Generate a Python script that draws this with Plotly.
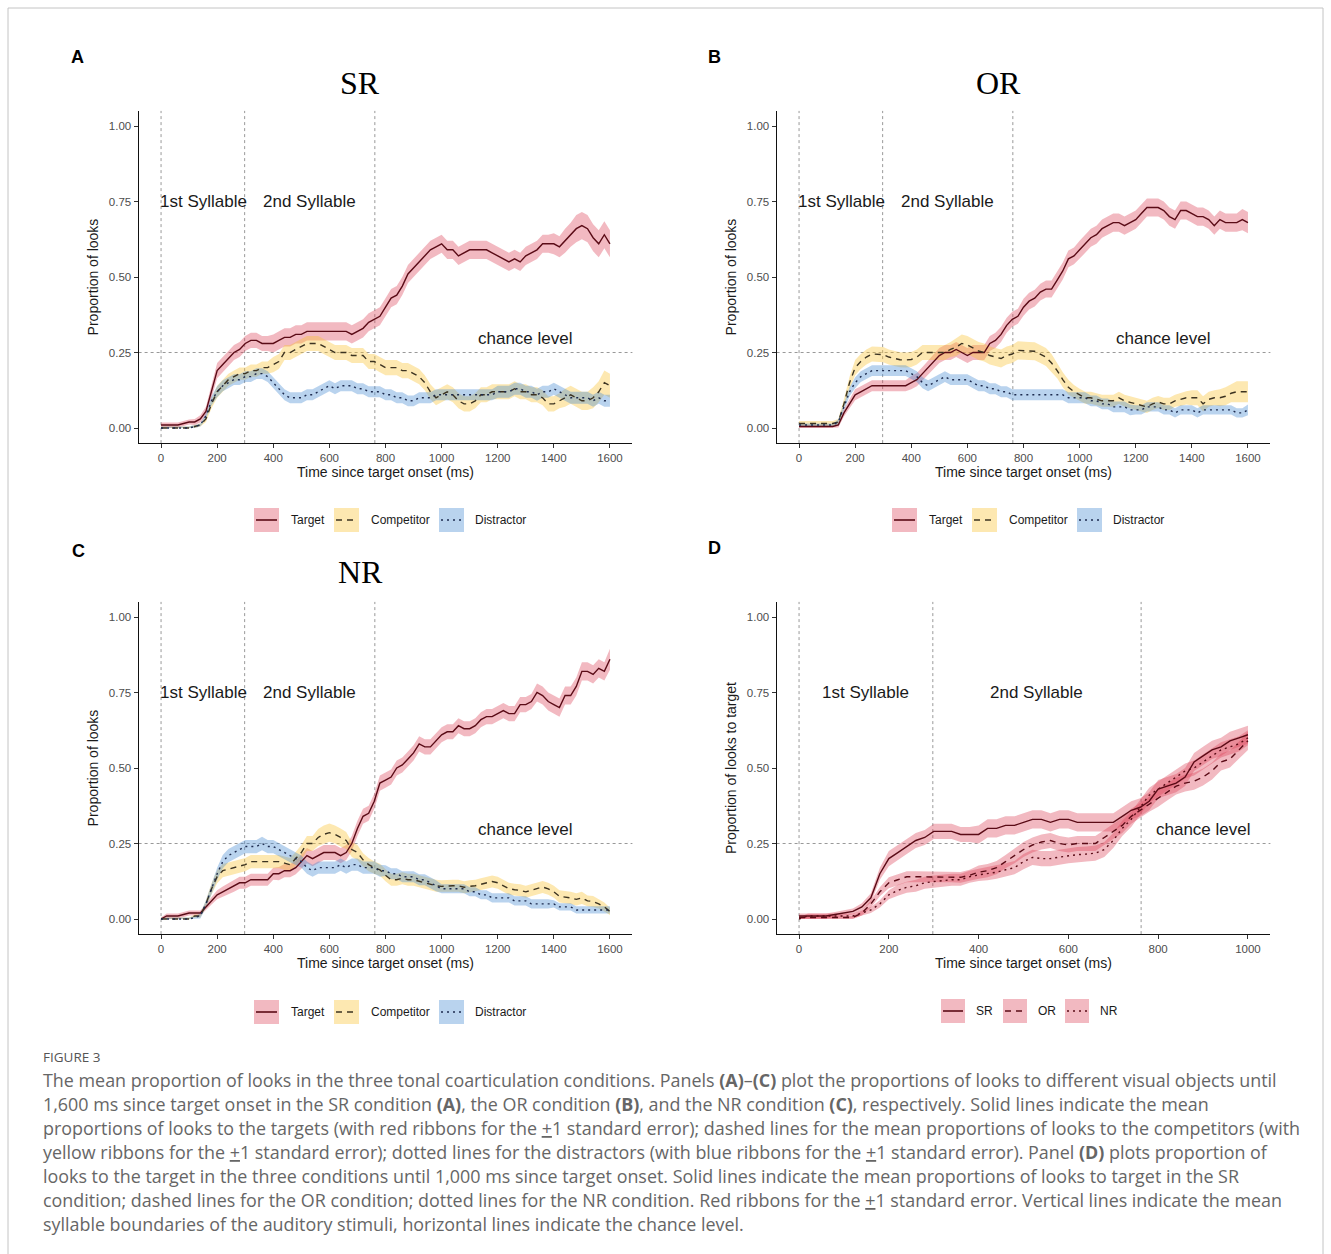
import plotly.graph_objects as go

W, H = 1331, 1254

# ---------------- data ----------------
TIME_MS = list(range(0, 1601, 20))
TIME_MS_D = list(range(0, 1001, 20))

SR_TARGET = [0.01, 0.01, 0.01, 0.01, 0.015, 0.02, 0.02, 0.03, 0.055, 0.12,
             0.19, 0.21, 0.23, 0.25, 0.26, 0.28, 0.29, 0.29, 0.28, 0.28,
             0.28, 0.29, 0.30, 0.30, 0.31, 0.31, 0.32, 0.32, 0.32, 0.32,
             0.32, 0.32, 0.32, 0.32, 0.31, 0.32, 0.33, 0.35, 0.36, 0.37,
             0.40, 0.43, 0.44, 0.47, 0.51, 0.53, 0.55, 0.57, 0.59, 0.60,
             0.61, 0.59, 0.59, 0.57, 0.58, 0.59, 0.59, 0.59, 0.59, 0.58,
             0.57, 0.56, 0.55, 0.56, 0.55, 0.57, 0.58, 0.59, 0.61, 0.61,
             0.61, 0.60, 0.62, 0.64, 0.66, 0.67, 0.66, 0.63, 0.61, 0.64,
             0.61]
SR_TARGET_SE = [0.008, 0.008, 0.008, 0.008, 0.008, 0.008, 0.01, 0.012, 0.015, 0.02,
                0.025, 0.025, 0.025, 0.025, 0.025, 0.025, 0.025, 0.025, 0.025, 0.025,
                0.03, 0.03, 0.03, 0.03, 0.03, 0.03, 0.03, 0.03, 0.03, 0.03,
                0.03, 0.03, 0.03, 0.03, 0.03, 0.03, 0.03, 0.03, 0.03, 0.03,
                0.03, 0.03, 0.03, 0.03, 0.03, 0.03, 0.03, 0.03, 0.03, 0.03,
                0.03, 0.03, 0.03, 0.03, 0.03, 0.03, 0.03, 0.03, 0.03, 0.03,
                0.03, 0.03, 0.03, 0.03, 0.03, 0.03, 0.03, 0.03, 0.03, 0.03,
                0.035, 0.035, 0.04, 0.04, 0.045, 0.045, 0.045, 0.045, 0.045, 0.045,
                0.045]
SR_COMP = [0.0, 0.0, 0.0, 0.0, 0.0, 0.0, 0.005, 0.01, 0.03, 0.08,
           0.12, 0.14, 0.16, 0.17, 0.18, 0.18, 0.19, 0.19, 0.20, 0.20,
           0.21, 0.22, 0.25, 0.25, 0.26, 0.27, 0.28, 0.28, 0.28, 0.27,
           0.26, 0.25, 0.25, 0.25, 0.24, 0.24, 0.24, 0.22, 0.22, 0.21,
           0.20, 0.20, 0.20, 0.19, 0.19, 0.18, 0.17, 0.15, 0.12, 0.10,
           0.11, 0.12, 0.11, 0.09, 0.08, 0.08, 0.09, 0.11, 0.11, 0.12,
           0.12, 0.12, 0.12, 0.13, 0.12, 0.12, 0.11, 0.11, 0.10, 0.08,
           0.08, 0.09, 0.10, 0.11, 0.10, 0.09, 0.09, 0.10, 0.12, 0.15,
           0.14]
SR_COMP_SE = [0.005, 0.005, 0.005, 0.005, 0.005, 0.005, 0.005, 0.005, 0.01, 0.015,
              0.02, 0.02, 0.02, 0.02, 0.02, 0.02, 0.02, 0.02, 0.02, 0.02,
              0.025, 0.025, 0.025, 0.025, 0.025, 0.025, 0.025, 0.025, 0.025, 0.025,
              0.025, 0.025, 0.025, 0.025, 0.025, 0.025, 0.025, 0.025, 0.025, 0.025,
              0.025, 0.025, 0.025, 0.025, 0.025, 0.025, 0.025, 0.025, 0.025, 0.025,
              0.025, 0.025, 0.025, 0.025, 0.025, 0.025, 0.025, 0.025, 0.025, 0.025,
              0.025, 0.025, 0.025, 0.025, 0.025, 0.025, 0.025, 0.025, 0.025, 0.025,
              0.025, 0.025, 0.03, 0.03, 0.03, 0.03, 0.03, 0.035, 0.035, 0.04,
              0.04]
SR_DIST = [0.0, 0.0, 0.0, 0.0, 0.0, 0.0, 0.005, 0.01, 0.04, 0.09,
           0.12, 0.14, 0.15, 0.16, 0.16, 0.17, 0.17, 0.18, 0.18, 0.17,
           0.15, 0.13, 0.11, 0.10, 0.10, 0.10, 0.11, 0.11, 0.12, 0.13,
           0.14, 0.13, 0.14, 0.14, 0.14, 0.13, 0.13, 0.12, 0.12, 0.12,
           0.11, 0.11, 0.10, 0.10, 0.09, 0.09, 0.10, 0.10, 0.10, 0.11,
           0.11, 0.11, 0.11, 0.11, 0.11, 0.11, 0.11, 0.11, 0.11, 0.11,
           0.12, 0.12, 0.12, 0.13, 0.13, 0.12, 0.12, 0.11, 0.12, 0.12,
           0.13, 0.12, 0.11, 0.10, 0.10, 0.10, 0.10, 0.09, 0.10, 0.09,
           0.09]
SR_DIST_SE = [0.005, 0.005, 0.005, 0.005, 0.005, 0.005, 0.005, 0.005, 0.01, 0.015,
              0.018, 0.018, 0.018, 0.018, 0.018, 0.018, 0.018, 0.018, 0.018, 0.018,
              0.018, 0.018, 0.018, 0.018, 0.018, 0.018, 0.018, 0.018, 0.018, 0.018,
              0.018, 0.018, 0.018, 0.018, 0.018, 0.018, 0.018, 0.018, 0.018, 0.018,
              0.018, 0.018, 0.018, 0.018, 0.018, 0.018, 0.018, 0.018, 0.018, 0.018,
              0.018, 0.018, 0.018, 0.018, 0.018, 0.018, 0.018, 0.018, 0.018, 0.018,
              0.02, 0.02, 0.02, 0.02, 0.02, 0.02, 0.02, 0.02, 0.02, 0.02,
              0.02, 0.02, 0.02, 0.02, 0.02, 0.02, 0.02, 0.02, 0.02, 0.02,
              0.02]

OR_TARGET = [0.005, 0.005, 0.005, 0.005, 0.005, 0.005, 0.005, 0.01, 0.05, 0.08,
             0.11, 0.12, 0.13, 0.14, 0.14, 0.14, 0.14, 0.14, 0.14, 0.14,
             0.15, 0.16, 0.18, 0.20, 0.22, 0.24, 0.25, 0.25, 0.26, 0.25,
             0.24, 0.25, 0.25, 0.25, 0.28, 0.29, 0.31, 0.34, 0.36, 0.37,
             0.40, 0.42, 0.43, 0.45, 0.46, 0.46, 0.49, 0.52, 0.56, 0.57,
             0.59, 0.61, 0.63, 0.64, 0.66, 0.67, 0.68, 0.68, 0.67, 0.68,
             0.69, 0.71, 0.73, 0.73, 0.73, 0.72, 0.70, 0.69, 0.72, 0.72,
             0.71, 0.70, 0.70, 0.69, 0.67, 0.69, 0.68, 0.68, 0.68, 0.69,
             0.68]
OR_TARGET_SE = [0.005, 0.005, 0.005, 0.005, 0.005, 0.005, 0.005, 0.008, 0.012, 0.015,
                0.018, 0.018, 0.018, 0.018, 0.018, 0.018, 0.018, 0.018, 0.018, 0.018,
                0.022, 0.022, 0.022, 0.022, 0.025, 0.025, 0.025, 0.025, 0.025, 0.025,
                0.025, 0.025, 0.025, 0.025, 0.025, 0.025, 0.025, 0.025, 0.025, 0.025,
                0.028, 0.028, 0.028, 0.028, 0.028, 0.028, 0.028, 0.028, 0.028, 0.028,
                0.03, 0.03, 0.03, 0.03, 0.03, 0.03, 0.03, 0.03, 0.03, 0.03,
                0.03, 0.03, 0.03, 0.03, 0.03, 0.03, 0.03, 0.03, 0.03, 0.03,
                0.03, 0.03, 0.03, 0.03, 0.03, 0.03, 0.03, 0.03, 0.03, 0.035,
                0.035]
OR_COMP = [0.015, 0.015, 0.015, 0.015, 0.015, 0.015, 0.015, 0.02, 0.08, 0.15,
           0.20, 0.22, 0.235, 0.245, 0.245, 0.243, 0.235, 0.23, 0.226, 0.225,
           0.227, 0.235, 0.25, 0.25, 0.25, 0.25, 0.25, 0.26, 0.268, 0.28,
           0.275, 0.265, 0.255, 0.25, 0.24, 0.235, 0.23, 0.24, 0.245, 0.257,
           0.255, 0.255, 0.254, 0.245, 0.235, 0.215, 0.19, 0.16, 0.135, 0.12,
           0.11, 0.10, 0.10, 0.095, 0.09, 0.09, 0.09, 0.10, 0.09, 0.085,
           0.08, 0.075, 0.07, 0.08, 0.086, 0.08, 0.08, 0.09, 0.095, 0.10,
           0.10, 0.10, 0.08, 0.095, 0.10, 0.10, 0.105, 0.115, 0.12, 0.12,
           0.12]
OR_COMP_SE = [0.008, 0.008, 0.008, 0.008, 0.008, 0.008, 0.008, 0.01, 0.015, 0.02,
              0.025, 0.025, 0.025, 0.025, 0.025, 0.025, 0.025, 0.025, 0.025, 0.025,
              0.025, 0.025, 0.025, 0.025, 0.025, 0.025, 0.025, 0.025, 0.03, 0.03,
              0.03, 0.03, 0.03, 0.03, 0.03, 0.03, 0.03, 0.03, 0.03, 0.03,
              0.03, 0.03, 0.03, 0.03, 0.03, 0.03, 0.025, 0.025, 0.025, 0.022,
              0.02, 0.02, 0.02, 0.02, 0.02, 0.02, 0.02, 0.02, 0.02, 0.02,
              0.02, 0.02, 0.02, 0.02, 0.02, 0.02, 0.02, 0.02, 0.022, 0.022,
              0.025, 0.025, 0.025, 0.025, 0.025, 0.028, 0.03, 0.03, 0.035, 0.035,
              0.035]
OR_DIST = [0.01, 0.01, 0.01, 0.01, 0.01, 0.01, 0.01, 0.02, 0.07, 0.12,
           0.15, 0.17, 0.18, 0.19, 0.19, 0.19, 0.19, 0.19, 0.19, 0.19,
           0.18, 0.17, 0.15, 0.14, 0.15, 0.16, 0.17, 0.16, 0.16, 0.16,
           0.16, 0.15, 0.14, 0.14, 0.13, 0.13, 0.12, 0.12, 0.11, 0.11,
           0.11, 0.11, 0.11, 0.11, 0.11, 0.11, 0.11, 0.11, 0.10, 0.10,
           0.10, 0.10, 0.09, 0.09, 0.08, 0.08, 0.07, 0.07, 0.07, 0.06,
           0.06, 0.06, 0.07, 0.07, 0.07, 0.06, 0.06, 0.05, 0.06, 0.06,
           0.06, 0.05, 0.06, 0.06, 0.06, 0.06, 0.06, 0.06, 0.05, 0.05,
           0.06]
OR_DIST_SE = [0.005, 0.005, 0.005, 0.005, 0.005, 0.005, 0.005, 0.008, 0.012, 0.015,
              0.018, 0.018, 0.018, 0.018, 0.018, 0.018, 0.018, 0.018, 0.018, 0.018,
              0.018, 0.018, 0.018, 0.018, 0.018, 0.018, 0.018, 0.018, 0.018, 0.018,
              0.018, 0.018, 0.018, 0.018, 0.018, 0.018, 0.018, 0.018, 0.018, 0.018,
              0.018, 0.018, 0.018, 0.018, 0.018, 0.018, 0.018, 0.018, 0.018, 0.018,
              0.018, 0.018, 0.018, 0.018, 0.018, 0.018, 0.018, 0.018, 0.018, 0.018,
              0.015, 0.015, 0.015, 0.015, 0.015, 0.015, 0.015, 0.015, 0.015, 0.015,
              0.015, 0.015, 0.015, 0.015, 0.015, 0.015, 0.015, 0.015, 0.015, 0.015,
              0.018]

NR_TARGET = [0.00, 0.01, 0.01, 0.01, 0.015, 0.02, 0.02, 0.02, 0.04, 0.06,
             0.08, 0.09, 0.10, 0.11, 0.12, 0.12, 0.13, 0.13, 0.13, 0.13,
             0.15, 0.15, 0.16, 0.16, 0.17, 0.19, 0.21, 0.20, 0.21, 0.22,
             0.22, 0.22, 0.21, 0.22, 0.25, 0.30, 0.34, 0.35, 0.39, 0.45,
             0.46, 0.47, 0.50, 0.51, 0.53, 0.55, 0.58, 0.57, 0.57, 0.59,
             0.61, 0.62, 0.62, 0.64, 0.63, 0.63, 0.64, 0.66, 0.67, 0.67,
             0.68, 0.69, 0.68, 0.68, 0.71, 0.71, 0.72, 0.75, 0.74, 0.72,
             0.71, 0.70, 0.74, 0.74, 0.77, 0.82, 0.82, 0.81, 0.83, 0.82,
             0.86]
NR_TARGET_SE = [0.005, 0.008, 0.008, 0.008, 0.008, 0.008, 0.008, 0.008, 0.01, 0.012,
                0.015, 0.018, 0.018, 0.02, 0.02, 0.02, 0.02, 0.02, 0.02, 0.02,
                0.02, 0.022, 0.022, 0.022, 0.022, 0.025, 0.025, 0.025, 0.025, 0.025,
                0.025, 0.025, 0.025, 0.025, 0.025, 0.025, 0.025, 0.025, 0.025, 0.025,
                0.025, 0.025, 0.025, 0.025, 0.025, 0.025, 0.025, 0.025, 0.025, 0.025,
                0.025, 0.025, 0.025, 0.025, 0.025, 0.025, 0.025, 0.025, 0.025, 0.025,
                0.025, 0.025, 0.025, 0.025, 0.025, 0.025, 0.025, 0.03, 0.03, 0.03,
                0.03, 0.03, 0.03, 0.03, 0.03, 0.03, 0.03, 0.03, 0.03, 0.03,
                0.035]
NR_COMP = [0.0, 0.0, 0.0, 0.0, 0.0, 0.0, 0.01, 0.01, 0.05, 0.10,
           0.14, 0.16, 0.165, 0.17, 0.175, 0.18, 0.19, 0.19, 0.19, 0.19,
           0.19, 0.19, 0.185, 0.18, 0.20, 0.22, 0.25, 0.25, 0.27, 0.28,
           0.286, 0.28, 0.27, 0.26, 0.23, 0.22, 0.196, 0.18, 0.17, 0.163,
           0.145, 0.13, 0.13, 0.135, 0.13, 0.13, 0.125, 0.12, 0.115, 0.11,
           0.108, 0.11, 0.11, 0.11, 0.105, 0.108, 0.11, 0.115, 0.12, 0.124,
           0.12, 0.11, 0.10, 0.097, 0.095, 0.09, 0.095, 0.10, 0.106, 0.10,
           0.09, 0.075, 0.073, 0.07, 0.065, 0.07, 0.06, 0.058, 0.05, 0.04,
           0.025]
NR_COMP_SE = [0.005, 0.005, 0.005, 0.005, 0.005, 0.005, 0.005, 0.005, 0.012, 0.018,
              0.022, 0.022, 0.022, 0.022, 0.022, 0.022, 0.022, 0.022, 0.022, 0.022,
              0.022, 0.022, 0.022, 0.022, 0.022, 0.025, 0.025, 0.025, 0.028, 0.03,
              0.03, 0.03, 0.03, 0.028, 0.025, 0.025, 0.022, 0.022, 0.02, 0.02,
              0.02, 0.02, 0.02, 0.02, 0.02, 0.02, 0.02, 0.02, 0.02, 0.02,
              0.02, 0.02, 0.02, 0.02, 0.02, 0.02, 0.02, 0.02, 0.02, 0.02,
              0.02, 0.02, 0.02, 0.02, 0.02, 0.02, 0.02, 0.02, 0.02, 0.02,
              0.02, 0.02, 0.02, 0.02, 0.02, 0.02, 0.018, 0.018, 0.015, 0.015,
              0.012]
NR_DIST = [0.0, 0.0, 0.0, 0.0, 0.0, 0.0, 0.005, 0.01, 0.05, 0.10,
           0.15, 0.19, 0.21, 0.22, 0.23, 0.24, 0.24, 0.24, 0.25, 0.24,
           0.24, 0.23, 0.22, 0.21, 0.20, 0.19, 0.17, 0.16, 0.17, 0.17,
           0.17, 0.17, 0.18, 0.17, 0.18, 0.18, 0.17, 0.17, 0.17, 0.16,
           0.16, 0.15, 0.15, 0.14, 0.14, 0.14, 0.13, 0.13, 0.12, 0.11,
           0.10, 0.10, 0.10, 0.10, 0.10, 0.09, 0.09, 0.08, 0.08, 0.07,
           0.07, 0.07, 0.07, 0.06, 0.06, 0.06, 0.05, 0.05, 0.05, 0.05,
           0.05, 0.04, 0.04, 0.04, 0.03, 0.03, 0.03, 0.03, 0.03, 0.03,
           0.03]
NR_DIST_SE = [0.005, 0.005, 0.005, 0.005, 0.005, 0.005, 0.005, 0.008, 0.012, 0.018,
              0.02, 0.022, 0.022, 0.022, 0.022, 0.022, 0.022, 0.022, 0.022, 0.022,
              0.022, 0.022, 0.022, 0.022, 0.022, 0.02, 0.02, 0.02, 0.02, 0.02,
              0.02, 0.02, 0.02, 0.02, 0.02, 0.02, 0.02, 0.02, 0.02, 0.02,
              0.018, 0.018, 0.018, 0.018, 0.018, 0.018, 0.018, 0.018, 0.018, 0.018,
              0.015, 0.015, 0.015, 0.015, 0.015, 0.015, 0.015, 0.015, 0.015, 0.015,
              0.015, 0.015, 0.015, 0.015, 0.015, 0.015, 0.015, 0.015, 0.015, 0.015,
              0.012, 0.012, 0.012, 0.012, 0.012, 0.012, 0.012, 0.012, 0.012, 0.012,
              0.012]

D_SR = [0.01, 0.01, 0.01, 0.01, 0.015, 0.02, 0.025, 0.04, 0.07, 0.15,
        0.20, 0.22, 0.24, 0.26, 0.27, 0.29, 0.29, 0.29, 0.28, 0.28,
        0.28, 0.30, 0.30, 0.31, 0.31, 0.32, 0.33, 0.33, 0.32, 0.33,
        0.33, 0.32, 0.32, 0.32, 0.32, 0.32, 0.34, 0.36, 0.37, 0.39,
        0.43, 0.44, 0.45, 0.47, 0.52, 0.54, 0.56, 0.57, 0.59, 0.60,
        0.61]
D_SR_SE = [0.008, 0.008, 0.008, 0.008, 0.008, 0.008, 0.01, 0.012, 0.015, 0.02,
           0.025, 0.025, 0.025, 0.025, 0.025, 0.025, 0.025, 0.025, 0.025, 0.025,
           0.03, 0.03, 0.03, 0.03, 0.03, 0.03, 0.03, 0.03, 0.03, 0.03,
           0.03, 0.03, 0.03, 0.03, 0.03, 0.03, 0.03, 0.03, 0.03, 0.03,
           0.03, 0.03, 0.03, 0.03, 0.03, 0.03, 0.03, 0.03, 0.03, 0.03,
           0.03]
D_OR = [0.005, 0.005, 0.005, 0.005, 0.005, 0.005, 0.005, 0.02, 0.05, 0.09,
        0.12, 0.13, 0.14, 0.14, 0.14, 0.14, 0.14, 0.14, 0.138, 0.145,
        0.155, 0.16, 0.17, 0.19, 0.21, 0.23, 0.245, 0.255, 0.26, 0.25,
        0.245, 0.25, 0.25, 0.25, 0.27, 0.29, 0.31, 0.34, 0.36, 0.38,
        0.40, 0.42, 0.44, 0.45, 0.456, 0.47, 0.49, 0.52, 0.53, 0.56,
        0.59]
D_OR_SE = [0.005, 0.005, 0.005, 0.005, 0.005, 0.005, 0.005, 0.008, 0.012, 0.015,
           0.018, 0.018, 0.018, 0.018, 0.018, 0.018, 0.018, 0.018, 0.018, 0.018,
           0.022, 0.022, 0.022, 0.022, 0.025, 0.025, 0.025, 0.025, 0.025, 0.025,
           0.025, 0.025, 0.025, 0.025, 0.025, 0.025, 0.025, 0.025, 0.025, 0.025,
           0.028, 0.028, 0.028, 0.028, 0.028, 0.028, 0.028, 0.028, 0.028, 0.028,
           0.03]
D_NR = [0.00, 0.01, 0.01, 0.01, 0.01, 0.01, 0.01, 0.02, 0.03, 0.05,
        0.08, 0.095, 0.105, 0.11, 0.12, 0.124, 0.127, 0.13, 0.13, 0.14,
        0.146, 0.15, 0.155, 0.163, 0.17, 0.19, 0.204, 0.20, 0.20, 0.205,
        0.21, 0.213, 0.215, 0.218, 0.23, 0.26, 0.30, 0.33, 0.37, 0.41,
        0.43, 0.45, 0.47, 0.49, 0.50, 0.52, 0.54, 0.56, 0.57, 0.58,
        0.60]
D_NR_SE = [0.005, 0.008, 0.008, 0.008, 0.008, 0.008, 0.008, 0.008, 0.01, 0.012,
           0.015, 0.018, 0.018, 0.02, 0.02, 0.02, 0.02, 0.02, 0.02, 0.02,
           0.02, 0.022, 0.022, 0.022, 0.022, 0.025, 0.025, 0.025, 0.025, 0.025,
           0.025, 0.025, 0.025, 0.025, 0.025, 0.025, 0.025, 0.025, 0.025, 0.025,
           0.025, 0.025, 0.025, 0.025, 0.025, 0.025, 0.025, 0.025, 0.025, 0.025,
           0.025]

SYLLABLE_BOUNDARIES = [0, 298, 762]
CHANCE_LEVEL = 0.25
X_TICKS_ABC = [0, 200, 400, 600, 800, 1000, 1200, 1400, 1600]
X_TICKS_D = [0, 200, 400, 600, 800, 1000]
Y_TICKS = [0.0, 0.25, 0.5, 0.75, 1.0]
Y_TICK_TEXT = ["0.00", "0.25", "0.50", "0.75", "1.00"]
LEGEND_ABC = ["Target", "Competitor", "Distractor"]
LEGEND_D = ["SR", "OR", "NR"]

# ---------------- styles ----------------
SANS = "Liberation Sans, Arial, Helvetica, sans-serif"
SERIF = "Liberation Serif, Times New Roman, serif"
CAP = "Open Sans, Lato, sans-serif"
RIB_RED = "rgba(222,70,92,0.38)"
RIB_YEL = "rgba(250,195,50,0.38)"
RIB_BLU = "rgba(70,140,210,0.38)"
LINE_RED = "#5a0b16"
LINE_COMP = "#3c3321"
LINE_DIST = "#1d2b4f"
DASH = "6px,5px"
DOT = "2px,4px"


def px_x(x):
    return x / W


def px_y(y):
    return 1 - y / H


fig = go.Figure()

dom_x_left = [138.6 / W, 632.4 / W]
dom_x_right = [776.6 / W, 1270.4 / W]
dom_y_top = [px_y(443.1), px_y(110.9)]
dom_y_bot = [px_y(934.1), px_y(601.9)]

panels = [
    dict(ax="", xd=dom_x_left, yd=dom_y_top, xr=[-80, 1680], ticks=X_TICKS_ABC,
         ytitle="Proportion of looks", t=TIME_MS,
         series=[(SR_TARGET, SR_TARGET_SE, RIB_RED, LINE_RED, "solid"),
                 (SR_COMP, SR_COMP_SE, RIB_YEL, LINE_COMP, DASH),
                 (SR_DIST, SR_DIST_SE, RIB_BLU, LINE_DIST, DOT)],
         syl=[150, 530], chance_x=1300),
    dict(ax="2", xd=dom_x_right, yd=dom_y_top, xr=[-80, 1680], ticks=X_TICKS_ABC,
         ytitle="Proportion of looks", t=TIME_MS,
         series=[(OR_TARGET, OR_TARGET_SE, RIB_RED, LINE_RED, "solid"),
                 (OR_COMP, OR_COMP_SE, RIB_YEL, LINE_COMP, DASH),
                 (OR_DIST, OR_DIST_SE, RIB_BLU, LINE_DIST, DOT)],
         syl=[150, 530], chance_x=1300),
    dict(ax="3", xd=dom_x_left, yd=dom_y_bot, xr=[-80, 1680], ticks=X_TICKS_ABC,
         ytitle="Proportion of looks", t=TIME_MS,
         series=[(NR_TARGET, NR_TARGET_SE, RIB_RED, LINE_RED, "solid"),
                 (NR_COMP, NR_COMP_SE, RIB_YEL, LINE_COMP, DASH),
                 (NR_DIST, NR_DIST_SE, RIB_BLU, LINE_DIST, DOT)],
         syl=[150, 530], chance_x=1300),
    dict(ax="4", xd=dom_x_right, yd=dom_y_bot, xr=[-50, 1050], ticks=X_TICKS_D,
         ytitle="Proportion of looks to target", t=TIME_MS_D,
         series=[(D_SR, D_SR_SE, RIB_RED, LINE_RED, "solid"),
                 (D_OR, D_OR_SE, RIB_RED, LINE_RED, DASH),
                 (D_NR, D_NR_SE, RIB_RED, LINE_RED, DOT)],
         syl=[149, 530], chance_x=900),
]

shapes = []
annotations = []


def note(x, y, text, font, xref="paper", yref="paper", xanchor="center"):
    annotations.append(dict(x=x, y=y, xref=xref, yref=yref, text=text, showarrow=False,
                            xanchor=xanchor, yanchor="middle", font=font))


for p in panels:
    xa = "x" + p["ax"]
    ya = "y" + p["ax"]
    t = p["t"]
    for mean, se, rib, lc, dash in p["series"]:
        up = [m + s for m, s in zip(mean, se)]
        lo = [max(m - s, 0.0) for m, s in zip(mean, se)]
        fig.add_trace(go.Scatter(x=t + t[::-1], y=up + lo[::-1], fill="toself",
                                 fillcolor=rib, line=dict(width=0), mode="lines",
                                 hoverinfo="skip", showlegend=False,
                                 xaxis=xa, yaxis=ya))
    for mean, se, rib, lc, dash in p["series"]:
        fig.add_trace(go.Scatter(x=t, y=mean, mode="lines",
                                 line=dict(color=lc, width=1.4, dash=dash),
                                 showlegend=False, xaxis=xa, yaxis=ya))
    fig.layout["xaxis" + p["ax"]] = dict(
        domain=p["xd"], anchor=ya, range=p["xr"], tickvals=p["ticks"],
        showline=True, linecolor="#111", linewidth=1.2, ticks="outside",
        ticklen=4, tickcolor="#333", tickwidth=1,
        tickfont=dict(family=SANS, size=11.5, color="#4d4d4d"),
        showgrid=False, zeroline=False,
        title=dict(text="Time since target onset (ms)", standoff=3,
                   font=dict(family=SANS, size=14, color="#1a1a1a")))
    fig.layout["yaxis" + p["ax"]] = dict(
        domain=p["yd"], anchor=xa, range=[-0.05, 1.05], tickvals=Y_TICKS,
        ticktext=Y_TICK_TEXT, showline=True, linecolor="#111", linewidth=1.2,
        ticks="outside", ticklen=4, tickcolor="#333", tickwidth=1,
        tickfont=dict(family=SANS, size=11.5, color="#4d4d4d"),
        showgrid=False, zeroline=False,
        title=dict(text=p["ytitle"], standoff=6,
                   font=dict(family=SANS, size=14, color="#1a1a1a")))
    for b in SYLLABLE_BOUNDARIES:
        shapes.append(dict(type="line", xref=xa, yref=ya + " domain", x0=b, x1=b,
                           y0=0, y1=1, line=dict(color="#999999", width=1, dash="dot"),
                           layer="below"))
    shapes.append(dict(type="line", xref=xa + " domain", yref=ya, x0=0, x1=1,
                       y0=CHANCE_LEVEL, y1=CHANCE_LEVEL,
                       line=dict(color="#999999", width=1, dash="dot"), layer="below"))
    lab_font = dict(family=SANS, size=17, color="#1a1a1a")
    for sx, txt in zip(p["syl"], ["1st Syllable", "2nd Syllable"]):
        note(sx, 0.75, txt, lab_font, xref=xa, yref=ya)
    note(p["chance_x"], 0.296, "chance level", lab_font, xref=xa, yref=ya)

for txt, x, y in [("SR", 360, 83), ("OR", 998, 83), ("NR", 360, 572)]:
    note(px_x(x), px_y(y), txt, dict(family=SERIF, size=32, color="#000"))
for txt, x, y in [("A", 77, 57), ("B", 714, 57), ("C", 78, 551), ("D", 714, 548)]:
    note(px_x(x), px_y(y), "<b>" + txt + "</b>", dict(family=SANS, size=18, color="#000"))


def legend(keys_x, texts_x, yc, labels, fills, lcolors, dashes, kw=25):
    for kx, tx, lab, f, lc, d in zip(keys_x, texts_x, labels, fills, lcolors, dashes):
        shapes.append(dict(type="rect", xref="paper", yref="paper",
                           x0=px_x(kx), x1=px_x(kx + kw), y0=px_y(yc + 12), y1=px_y(yc - 12),
                           fillcolor=f, line=dict(width=0)))
        shapes.append(dict(type="line", xref="paper", yref="paper",
                           x0=px_x(kx + 2), x1=px_x(kx + kw - 2), y0=px_y(yc), y1=px_y(yc),
                           line=dict(color=lc, width=1.6, dash=d)))
        note(px_x(tx), px_y(yc), lab, dict(family=SANS, size=12, color="#1a1a1a"),
             xanchor="left")


abc_fills = [RIB_RED, RIB_YEL, RIB_BLU]
abc_lines = [LINE_RED, LINE_COMP, LINE_DIST]
abc_dash = ["solid", DASH, DOT]
legend([254, 334, 439], [289, 369, 473], 520, LEGEND_ABC, abc_fills, abc_lines, abc_dash)
legend([892, 972, 1077], [927, 1007, 1111], 520, LEGEND_ABC, abc_fills, abc_lines, abc_dash)
legend([254, 334, 439], [289, 369, 473], 1012, LEGEND_ABC, abc_fills, abc_lines, abc_dash)
legend([941, 1003, 1065], [974, 1036, 1098], 1011, LEGEND_D, [RIB_RED] * 3, [LINE_RED] * 3,
       abc_dash, kw=24)

shapes.append(dict(type="rect", xref="paper", yref="paper", x0=px_x(8), x1=px_x(1323),
                   y0=-0.02, y1=px_y(8), line=dict(color="#c4c4c4", width=1),
                   fillcolor="rgba(0,0,0,0)", layer="below"))

note(px_x(41), px_y(1057), "FIGURE 3", dict(family=CAP, size=13.5, color="#555"), xanchor="left")
CAPTION = [
    "The mean proportion of looks in the three tonal coarticulation conditions. Panels <b>(A)</b>\u2013<b>(C)</b> plot the proportions of looks to different visual objects until",
    "1,600 ms since target onset in the SR condition <b>(A)</b>, the OR condition <b>(B)</b>, and the NR condition <b>(C)</b>, respectively. Solid lines indicate the mean",
    "proportions of looks to the targets (with red ribbons for the <u>+</u>1 standard error); dashed lines for the mean proportions of looks to the competitors (with",
    "yellow ribbons for the <u>+</u>1 standard error); dotted lines for the distractors (with blue ribbons for the <u>+</u>1 standard error). Panel <b>(D)</b> plots proportion of",
    "looks to the target in the three conditions until 1,000 ms since target onset. Solid lines indicate the mean proportions of looks to target in the SR",
    "condition; dashed lines for the OR condition; dotted lines for the NR condition. Red ribbons for the <u>+</u>1 standard error. Vertical lines indicate the mean",
    "syllable boundaries of the auditory stimuli, horizontal lines indicate the chance level.",
]
for i, line in enumerate(CAPTION):
    note(px_x(41), px_y(1080 + 24 * i), line, dict(family=CAP, size=17.9, color="#666666"),
         xanchor="left")

fig.update_layout(width=W, height=H, margin=dict(l=0, r=0, t=0, b=0),
                  paper_bgcolor="white", plot_bgcolor="white",
                  shapes=shapes, annotations=annotations, showlegend=False)

fig.write_html("out.html", config={"displayModeBar": False},
               post_script="document.body.style.margin='0';document.body.style.overflow='hidden';")
